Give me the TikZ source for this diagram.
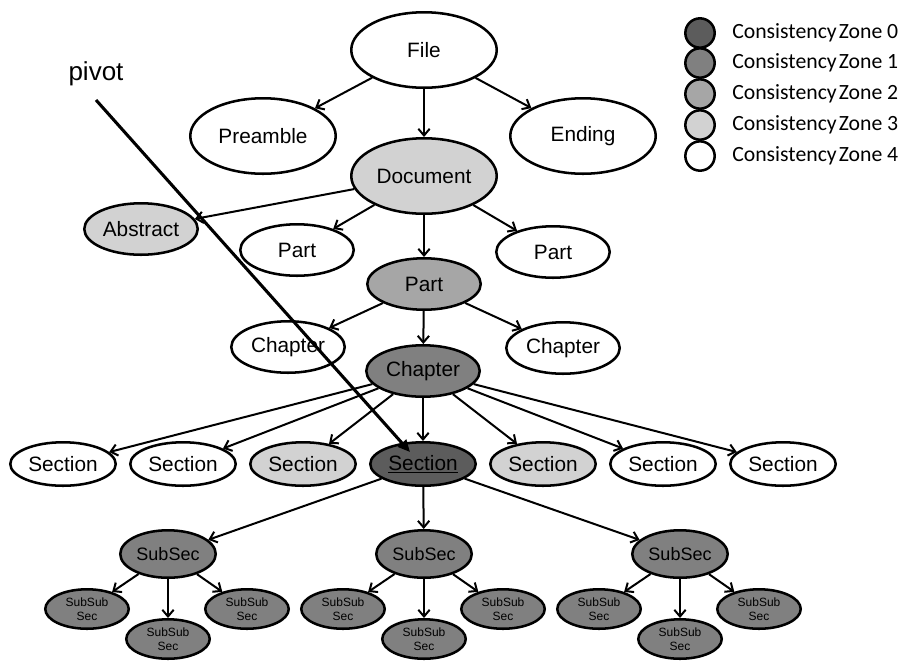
\documentclass[tikz,border=0pt]{standalone}
\usepackage{fontspec}
\setmainfont{Liberation Sans}
\newfontfamily\legendfont{Carlito}
\usetikzlibrary{shapes.geometric,arrows.meta}

% fill shades of the consistency zones
\definecolor{zoneA}{RGB}{92,92,92}
\definecolor{zoneB}{RGB}{128,128,128}
\definecolor{zoneC}{RGB}{166,166,166}
\definecolor{zoneD}{RGB}{210,210,210}
\definecolor{zoneE}{RGB}{255,255,255}

\begin{document}
\begin{tikzpicture}[x=0.75pt,y=-0.75pt,
  blob/.style={ellipse, draw=black, line width=1.9pt, inner sep=0pt,
    font=\fontsize{15.6}{17}\selectfont},
  dims/.style 2 args={minimum width=#1*1.5pt-1.9pt, minimum height=#2*1.5pt-1.9pt},
  big/.style={blob, dims={74}{39}},
  mid/.style={blob, dims={58}{27}},
  sect/.style={blob, dims={54}{23}},
  subsec/.style={blob, dims={49}{25}, fill=zoneB, font=\fontsize{13.5}{15}\selectfont},
  subsub/.style={blob, dims={43}{21}, fill=zoneB, align=center,
    font=\fontsize{9}{10.5}\selectfont},
  link/.style={line width=1.5pt, -{Straight Barb[length=5pt,width=8.5pt]}},
  swatch/.style={circle, draw=black, line width=1.9pt, minimum size=22pt, inner sep=0pt},
  legtext/.style={anchor=west, inner sep=0pt, font=\legendfont\fontsize{16.3}{18}\selectfont}
]
\useasboundingbox (0,0) rectangle (898,662);

% --- document tree ---
\node[big, fill=zoneE] (file) at (424,50) {File};
\node[big, fill=zoneE] (pre)  at (263,136) {Preamble};
\node[big, fill=zoneE] (end)  at (583,136) {Ending};
\node[big, fill=zoneD] (doc)  at (424,176) {Document};
\node[mid, fill=zoneD] (abs)  at (141,229) {Abstract};
\node[mid, fill=zoneE] (partL) at (297,250) {Part};
\node[mid, fill=zoneE] (partR) at (553,252) {Part};
\node[mid, fill=zoneC] (partM) at (424,284) {Part};
\node[mid, fill=zoneE] (chapL) at (288,347) {Chapter};
\node[mid, fill=zoneE] (chapR) at (563,348) {Chapter};
\node[mid, fill=zoneB] (chapM) at (423,371) {Chapter};

\node[sect, fill=zoneE] (s1) at (63,464)  {Section};
\node[sect, fill=zoneE] (s2) at (183,464) {Section};
\node[sect, fill=zoneD] (s3) at (303,464) {Section};
\node[sect, fill=zoneA] (s4) at (423,464) {\underline{Section}};
\node[sect, fill=zoneD] (s5) at (543,464) {Section};
\node[sect, fill=zoneE] (s6) at (663,464) {Section};
\node[sect, fill=zoneE] (s7) at (783,464) {Section};

\foreach \k/\x in {1/168, 2/424, 3/680} {
  \node[subsec] (ss\k) at (\x,554) {SubSec};
  \node[subsub] (ss\k a) at (\x-81,609) {SubSub\\Sec};
  \node[subsub] (ss\k b) at (\x,639)    {SubSub\\Sec};
  \node[subsub] (ss\k c) at (\x+79,609) {SubSub\\Sec};
  \draw[link] (ss\k) -- (ss\k a);
  \draw[link] (ss\k) -- (ss\k b);
  \draw[link] (ss\k) -- (ss\k c);
  \draw[link] (s4) -- (ss\k);
}

\draw[link] (file) -- (pre);
\draw[link] (file) -- (doc);
\draw[link] (file) -- (end);
\draw[link] (doc) -- (abs);
\draw[link] (doc) -- (partL);
\draw[link] (doc) -- (partM);
\draw[link] (doc) -- (partR);
\draw[link] (partM) -- (chapL);
\draw[link] (partM) -- (chapM);
\draw[link] (partM) -- (chapR);
\foreach \s in {s1,s2,s3,s4,s5,s6,s7}
  \draw[link] (chapM) -- (\s);

% --- pivot marker ---
\node[inner sep=0pt, font=\fontsize{19.5}{22}\selectfont] (pivot) at (96,74) {pivot};
\coordinate (pvfoot) at (96,100);
\coordinate (pvtip) at (410,452);
\draw[line width=2.3pt, -{Triangle[length=9pt,width=8pt]}] (pvfoot) -- (pvtip);

% --- legend ---
\foreach \i/\y/\c in {0/33/zoneA, 1/63/zoneB, 2/94/zoneC, 3/125/zoneD, 4/156/zoneE} {
  \node[swatch, fill=\c] (key\i) at (700,\y) {};
  \node[legtext] (lab\i) at (732,\y) {Consistency\hspace{1.5pt}Zone \i};
}
\end{tikzpicture}
\end{document}
